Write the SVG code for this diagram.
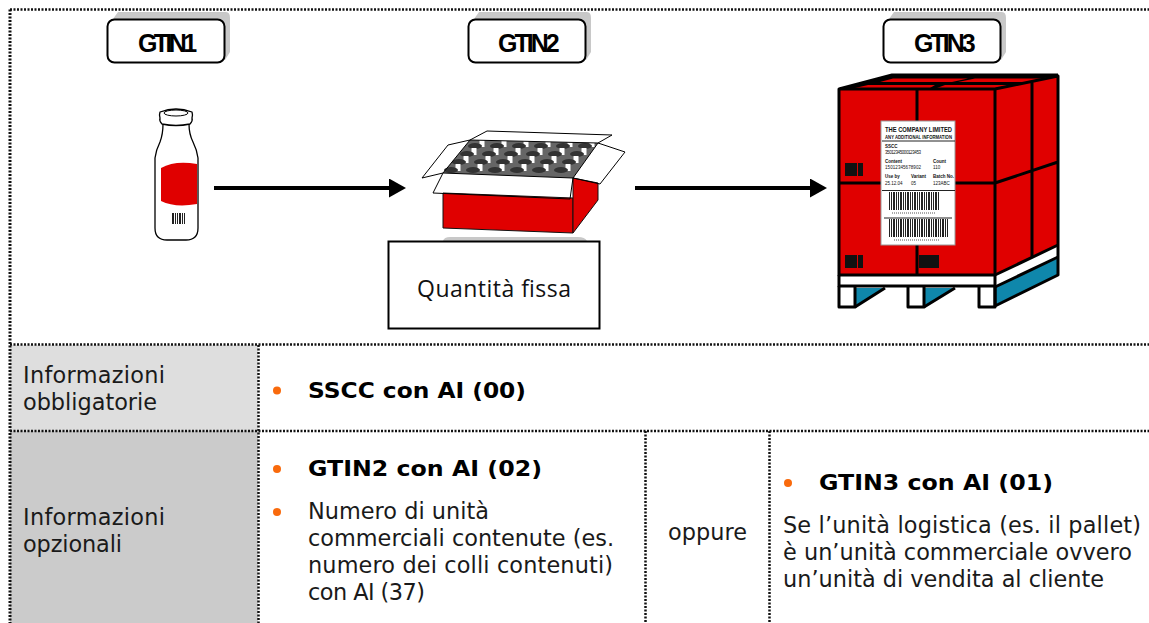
<svg xmlns="http://www.w3.org/2000/svg" width="1149" height="623" viewBox="0 0 1149 623">
<style>
.t{font-family:"DejaVu Sans",Verdana,sans-serif;font-size:22.4px;fill:#1a1a1a}
.b{font-weight:bold;font-size:21.5px;fill:#000}
.dot{stroke:#111;stroke-width:2.500;stroke-dasharray:2 1.500;fill:none}
.lb{fill:#fff;stroke:#000;stroke-width:2}
.sh{fill:#c8c8c8}
.gt{font-family:"Liberation Sans",Arial,sans-serif;font-weight:bold;font-size:25px;fill:#000}
.bu{fill:#f96a0c}
.k{stroke:#000;fill:none;stroke-linejoin:round}
.lt{font-family:"Liberation Sans",Arial,sans-serif;fill:#111;font-size:4.500px}
.lh{font-weight:bold}
.cn{stroke:#000;stroke-width:4;fill:none}
</style>
<defs>
<marker id="ah" markerUnits="userSpaceOnUse" markerWidth="17" markerHeight="19" refX="1" refY="9.500" orient="auto"><path d="M0 0L17 9.500L0 19z" fill="#000"/></marker>
<pattern id="bf" width="7" height="10" patternUnits="userSpaceOnUse"><rect width="7" height="10" fill="#fff"/><path d="M0 0h1v10h-1zM2 0h1v10h-1zM4 0h2v10h-2z" fill="#222"/></pattern>
<g id="cap"><rect x="-2.500" y="-5" width="5" height="7" fill="#fff"/><ellipse cx="-7" cy="1" rx="7" ry="3" fill="#333"/></g>
</defs>
<rect id="row1bg" x="10" y="345" width="248" height="86" fill="#dedede"/>
<rect id="row2bg" x="10" y="431" width="248" height="192" fill="#cbcbcb"/>
<g id="grid">
<path class="dot" d="M10 9.500H1149M10 344.500H1149M10 431H1149M258.500 345V623M645.500 431V623M769.500 431V623"/>
<path class="dot" style="stroke-width:3" d="M10 9.500V623"/>
</g>

<g id="gtin1"><path class="sh" d="M113 19L118 12H226Q230 12 230 18V52L225 60z"/><rect class="lb" x="107.500" y="19.500" width="117" height="43" rx="7"/><text class="gt" x="138" y="52" letter-spacing="-3.600">GTIN1</text></g>
<g id="gtin2"><path class="sh" d="M474 19L479 12H587Q591 12 591 18V52L586 60z"/><rect class="lb" x="468.500" y="19.500" width="117" height="43" rx="7"/><text class="gt" x="498" y="52" letter-spacing="-3">GTIN2</text></g>
<g id="gtin3"><path class="sh" d="M889 19L894 12H1002Q1006 12 1006 18V52L1001 60z"/><rect class="lb" x="883.500" y="19.500" width="117" height="43" rx="7"/><text class="gt" x="914" y="52" letter-spacing="-3">GTIN3</text></g>

<g id="bottle">
<path d="M161 168Q175 160 197 164V204Q175 208 161 201z" fill="#e00000"/>
<path class="k" stroke-width="1.300" d="M163 124Q163 134 160 142Q156 150 155 158V228Q155 240 167 240H186Q198 240 198 228V158Q197 150 193 142Q189 134 189 124"/>
<path class="k" stroke-width="1.300" fill="#fff" d="M160 112Q176 106 192 112Q193 115 192 118Q193 121 190 124Q176 127 162 124Q159 121 160 118Q159 115 160 112z"/>
<ellipse cx="176" cy="113" rx="12" ry="3" class="k" stroke-width="1"/>
<rect x="171" y="213" width="15" height="11" fill="url(#bf)"/>
</g>

<g id="box">
<path d="M443 193L573 198V233L443 228z" fill="#e00000" stroke="#111" stroke-width="1"/>
<path d="M573 178L598 183V200L573 233z" fill="#e00000" stroke="#111" stroke-width="1"/>
<path d="M443 173L470 140L598 143L573 178z" fill="#666"/>
<use href="#cap" x="482" y="145"/><use href="#cap" x="504" y="145"/><use href="#cap" x="526" y="145"/><use href="#cap" x="548" y="145"/><use href="#cap" x="570" y="145"/><use href="#cap" x="592" y="145"/>
<use href="#cap" x="474" y="153"/><use href="#cap" x="496" y="153"/><use href="#cap" x="518" y="153"/><use href="#cap" x="540" y="153"/><use href="#cap" x="562" y="153"/><use href="#cap" x="584" y="153"/>
<use href="#cap" x="466" y="161"/><use href="#cap" x="488" y="161"/><use href="#cap" x="510" y="161"/><use href="#cap" x="532" y="161"/><use href="#cap" x="554" y="161"/><use href="#cap" x="576" y="161"/>
<use href="#cap" x="458" y="169"/><use href="#cap" x="480" y="169"/><use href="#cap" x="502" y="169"/><use href="#cap" x="524" y="169"/><use href="#cap" x="546" y="169"/><use href="#cap" x="568" y="169"/>
<path class="k" fill="#fff" stroke-width="1" d="M443 173L433 193L570 199L573 178z"/>
<path class="k" fill="#fff" stroke-width="1" d="M470 140L487 131L612 135L598 143z"/>
<path class="k" fill="#fff" stroke-width="1" d="M443 173L422 178L448 145L470 140z"/>
<path class="k" fill="#fff" stroke-width="1" d="M598 143L625 152L600 184L573 178z"/>
</g>

<g id="pallet">
<path d="M839 89H995V275H839z" fill="#e00000"/>
<path d="M995 89L1058 76V245L995 275z" fill="#e00000"/>
<path d="M839 89L892 75H1058L995 89z" fill="#000"/>
<path d="M893 78.500H968L952 82H880zM975 78.500H1045L1029 82H958zM868 85H935L930 88H855zM945 85H1012L995 88H937z" fill="#e00000"/>
<path d="M995 276L1058 246V258L995 286z" fill="#fff"/>
<path d="M995 287L1058 258V275L995 305z" fill="#0f87ab"/>
<path d="M855 288H885L855 306z" fill="#0f87ab"/>
<path d="M925 288H955L925 306z" fill="#0f87ab"/>
<g class="k" stroke-width="3">
<path d="M839 89H995V275H839zM995 89L1058 76V275L995 306V89M839 89L892 75H1058M917 89V275M1032 82V257M839 183H995L1058 162"/>
<path d="M839 275V286H995M995 275L1058 245M995 287L1058 257"/>
<path d="M839 286V307H855V286M908 286V307H924V286M979 286V307H995V286"/>
<path d="M855 307L885 288M924 307L955 288"/>
</g>
<g fill="#111"><rect x="845" y="163" width="12" height="13"/><rect x="858" y="163" width="5" height="13"/><rect x="845" y="255" width="12" height="13"/><rect x="858" y="255" width="5" height="13"/><rect x="919" y="255" width="20" height="13"/></g>
<rect id="lab" x="881" y="121" width="74" height="124" fill="#fff" stroke="#999" stroke-width="1"/>
<text class="lt lh" x="885" y="132" style="font-size:8px" textLength="67" lengthAdjust="spacingAndGlyphs">THE COMPANY LIMITED</text>
<text class="lt lh" x="885" y="139" style="font-size:5.500px" textLength="67" lengthAdjust="spacingAndGlyphs">ANY ADDITIONAL INFORMATION</text>
<path d="M882 141H955M882 190.500H955M884 218H952" stroke="#222" stroke-width="1"/>
<text class="lt lh" x="885" y="148">SSCC</text>
<text class="lt" x="885" y="154" textLength="36">35012345000123453</text>
<text class="lt lh" x="885" y="163">Content</text>
<text class="lt" x="885" y="169" textLength="36">15012345678902</text>
<text class="lt lh" x="933" y="163">Count</text>
<text class="lt" x="933" y="169">110</text>
<text class="lt lh" x="885" y="178">Use by</text>
<text class="lt" x="885" y="185">25.12.04</text>
<text class="lt lh" x="911" y="178">Variant</text>
<text class="lt" x="911" y="185">05</text>
<text class="lt lh" x="933" y="178">Batch No.</text>
<text class="lt" x="933" y="185">123ABC</text>
<rect x="888" y="192" width="51" height="18" fill="url(#bf)"/>
<rect x="888" y="219" width="60" height="18" fill="url(#bf)"/>
<path d="M892 213H936M894 240H940" stroke="#555" stroke-width="1" stroke-dasharray="1 1"/>
</g>

<g id="connectors">
<path class="cn" d="M214 188H390" marker-end="url(#ah)"/>
<path class="cn" d="M635 188H811" marker-end="url(#ah)"/>
</g>

<g id="qty"><path class="sh" d="M443 241Q444 237 450 237H578Q585 237 587 241z"/><rect x="388.500" y="241.500" width="211" height="87" fill="#fff" stroke="#000" stroke-width="2"/><text x="417" y="297" font-family="Open Sans,Noto Sans,sans-serif" font-size="23" fill="#111" textLength="154">Quantità fissa</text></g>

<g id="c1"><text class="t" x="23" y="383" textLength="142">Informazioni</text><text class="t" x="23" y="410" textLength="134">obbligatorie</text></g>
<g id="c2"><circle class="bu" cx="277" cy="390.500" r="4"/><text class="t b" x="308" y="398" textLength="218" lengthAdjust="spacingAndGlyphs">SSCC con AI (00)</text></g>
<g id="c3"><text class="t" x="23" y="525" textLength="142">Informazioni</text><text class="t" x="23" y="552" textLength="99">opzionali</text></g>
<g id="c4"><circle class="bu" cx="277" cy="469" r="4"/><text class="t b" x="308" y="476" textLength="234" lengthAdjust="spacingAndGlyphs">GTIN2 con AI (02)</text>
<circle class="bu" cx="277" cy="512" r="4"/><text class="t" x="308" y="519" textLength="181">Numero di unità</text><text class="t" x="308" y="546" textLength="306">commerciali contenute (es.</text><text class="t" x="308" y="573" textLength="305">numero dei colli contenuti)</text><text class="t" x="308" y="600" textLength="117">con AI (37)</text></g>
<g id="c5"><text class="t" x="668" y="540" textLength="79">oppure</text></g>
<g id="c6"><circle class="bu" cx="788" cy="483" r="4"/><text class="t b" x="819" y="490" textLength="234" lengthAdjust="spacingAndGlyphs">GTIN3 con AI (01)</text>
<text class="t" x="783" y="533" textLength="358">Se l’unità logistica (es. il pallet)</text><text class="t" x="783" y="560" textLength="349">è un’unità commerciale ovvero</text><text class="t" x="783" y="587" textLength="321">un’unità di vendita al cliente</text></g>
</svg>
